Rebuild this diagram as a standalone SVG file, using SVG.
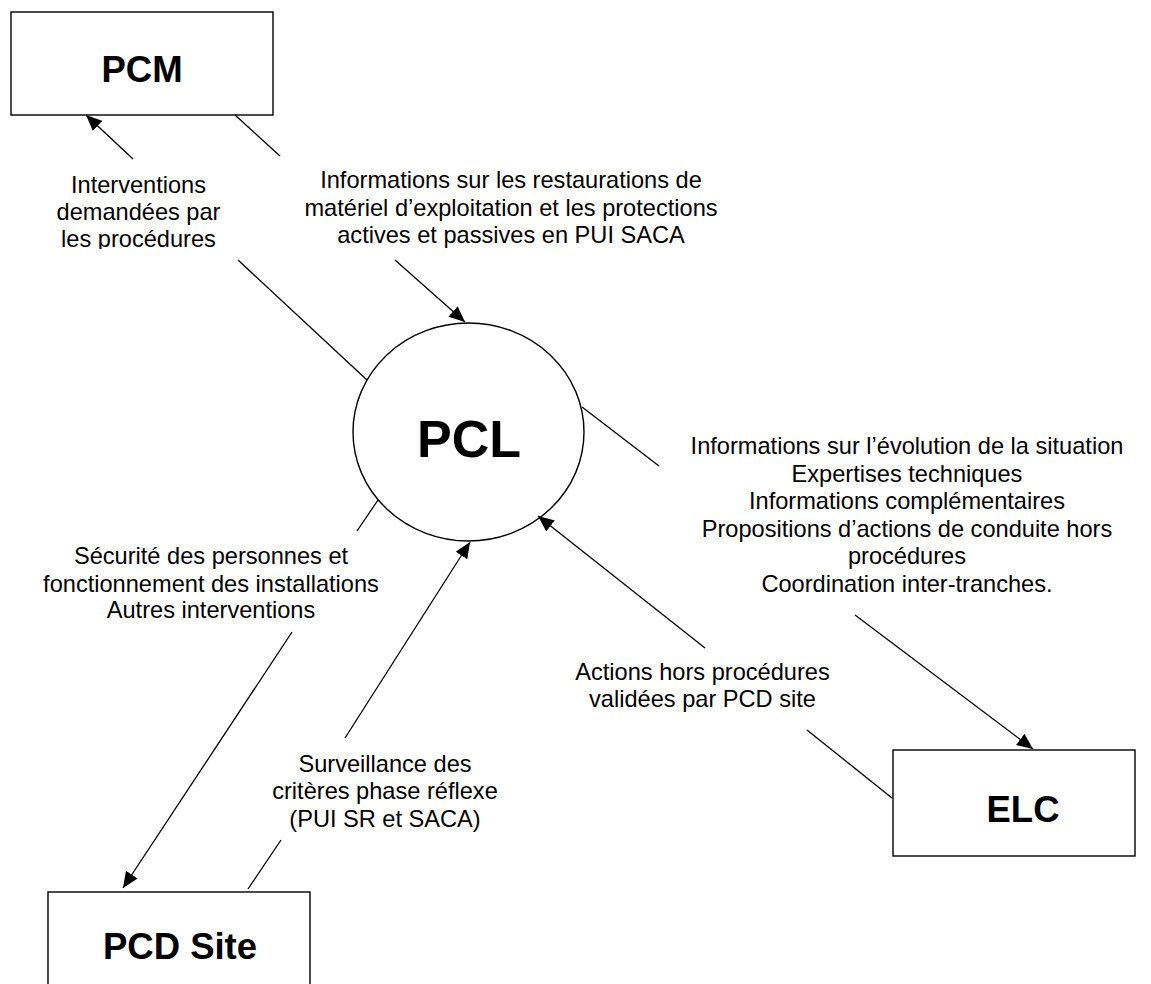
<svg xmlns="http://www.w3.org/2000/svg" width="1151" height="984" viewBox="0 0 1151 984">
<style>
.box{fill:#fff;stroke:#000;stroke-width:1.4}
.conn line{stroke:#000;stroke-width:1.3;fill:none}
.t{font-family:"Liberation Sans",Arial,Helvetica,sans-serif;font-size:23.6px;fill:#000;text-anchor:middle}
.b{font-family:"Liberation Sans",Arial,Helvetica,sans-serif;font-weight:bold;fill:#000;text-anchor:middle}
</style>
<defs>
<marker id="ah" markerUnits="userSpaceOnUse" markerWidth="17" markerHeight="14" refX="16" refY="7" orient="auto">
<path d="M0,0 L16,7 L0,14 z" fill="#000"/>
</marker>
<clipPath id="clip1"><rect x="0" y="160" width="300" height="89"/></clipPath>
</defs>
<rect width="1151" height="984" fill="#fff"/>

<g id="PCM">
<rect class="box" x="11" y="12" width="262" height="103"/>
<text class="b" x="142" y="82" font-size="36.5">PCM</text>
</g>

<g id="PCL">
<ellipse class="box" cx="468.5" cy="432" rx="115.5" ry="109"/>
<text class="b" x="469" y="457" font-size="52">PCL</text>
</g>

<g id="ELC">
<rect class="box" x="893" y="750" width="242" height="106"/>
<text class="b" x="1023" y="822" font-size="36.5">ELC</text>
</g>

<g id="PCD_Site">
<rect class="box" x="48" y="892" width="262" height="110"/>
<text class="b" x="180" y="959" font-size="36.5">PCD Site</text>
</g>

<g id="connectors" class="conn">
<line x1="367" y1="380" x2="238" y2="260"/>
<line x1="133" y1="159" x2="86" y2="115" marker-end="url(#ah)"/>
<line x1="235" y1="115" x2="280" y2="156"/>
<line x1="395" y1="260" x2="465" y2="322" marker-end="url(#ah)"/>
<line x1="582" y1="407" x2="659" y2="466"/>
<line x1="855" y1="615" x2="1033" y2="749" marker-end="url(#ah)"/>
<line x1="892" y1="798" x2="807" y2="730"/>
<line x1="705" y1="648" x2="538" y2="516" marker-end="url(#ah)"/>
<line x1="378" y1="500" x2="357" y2="531"/>
<line x1="292" y1="632" x2="123" y2="888" marker-end="url(#ah)"/>
<line x1="248" y1="889" x2="281" y2="840"/>
<line x1="345" y1="738" x2="470" y2="542" marker-end="url(#ah)"/>
</g>

<g id="labels">
<g clip-path="url(#clip1)">
<text class="t" x="138.5" y="193">Interventions</text>
<text class="t" x="138.5" y="220">demandées par</text>
<text class="t" x="138.5" y="247">les procédures</text>
</g>
<text class="t" x="511" y="188">Informations sur les restaurations de</text>
<text class="t" x="511" y="216">matériel d’exploitation et les protections</text>
<text class="t" x="511" y="243">actives et passives en PUI SACA</text>

<text class="t" x="907" y="454">Informations sur l’évolution de la situation</text>
<text class="t" x="907" y="481.5">Expertises techniques</text>
<text class="t" x="907" y="509">Informations complémentaires</text>
<text class="t" x="907" y="536.5">Propositions d’actions de conduite hors</text>
<text class="t" x="907" y="564">procédures</text>
<text class="t" x="907" y="591.5">Coordination inter-tranches.</text>

<text class="t" x="702.5" y="680">Actions hors procédures</text>
<text class="t" x="702.5" y="707">validées par PCD site</text>

<text class="t" x="211" y="564">Sécurité des personnes et</text>
<text class="t" x="211" y="591.5">fonctionnement des installations</text>
<text class="t" x="211" y="618">Autres interventions</text>

<text class="t" x="385" y="771.5">Surveillance des</text>
<text class="t" x="385" y="799">critères phase réflexe</text>
<text class="t" x="385" y="826.5">(PUI SR et SACA)</text>
</g>
</svg>
